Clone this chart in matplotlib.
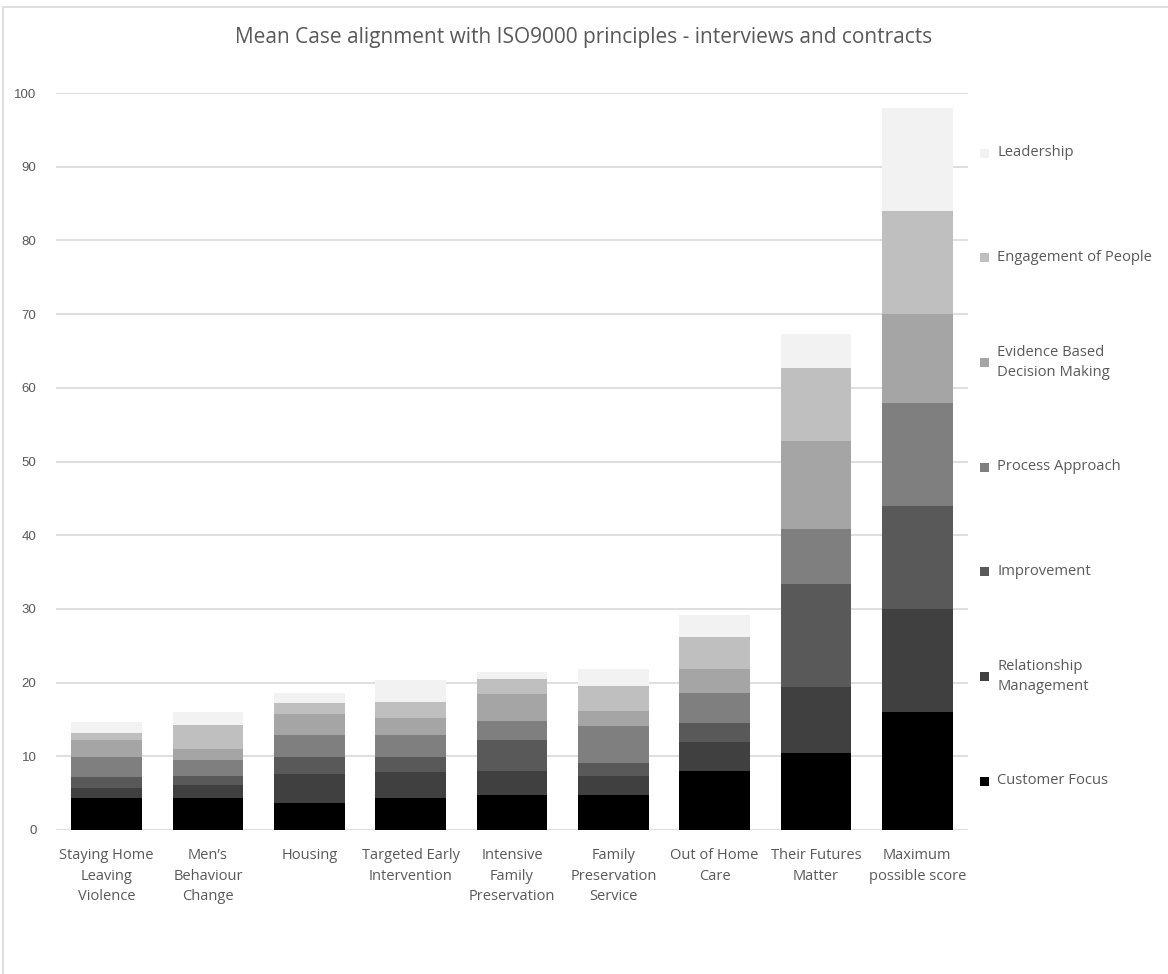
import numpy as np
import matplotlib
matplotlib.use('Agg')
import matplotlib.pyplot as plt
from matplotlib.patches import Rectangle

# mean scores per service, stacked by ISO9000 principle
categories = ['Staying Home\nLeaving\nViolence', 'Men\u2019s\nBehaviour\nChange', 'Housing',
              'Targeted Early\nIntervention', 'Intensive\nFamily\nPreservation',
              'Family\nPreservation\nService', 'Out of Home\nCare',
              'Their Futures\nMatter', 'Maximum\npossible score']

customer_focus = [4.4, 4.4, 3.7, 4.4, 4.8, 4.8, 8.05, 10.4, 16]
relationship   = [1.35, 1.75, 3.9, 3.45, 3.25, 2.55, 3.95, 9.0, 14]
improvement    = [1.4, 1.2, 2.25, 2.05, 4.15, 1.8, 2.5, 14.0, 14]
process        = [2.7, 2.1, 3.05, 3.05, 2.6, 4.9, 4.1, 7.5, 14]
evidence       = [2.3, 1.6, 2.8, 2.25, 3.6, 2.05, 3.3, 11.9, 12]
engagement     = [0.95, 3.25, 1.55, 2.1, 2.05, 3.4, 4.3, 9.9, 14]
leadership     = [1.6, 1.65, 1.35, 3.0, 0.95, 2.3, 3.0, 4.6, 14]

series = [
    ('Customer Focus', customer_focus, '#000000'),
    ('Relationship\nManagement', relationship, '#404040'),
    ('Improvement', improvement, '#595959'),
    ('Process Approach', process, '#7f7f7f'),
    ('Evidence Based\nDecision Making', evidence, '#a5a5a5'),
    ('Engagement of People', engagement, '#bfbfbf'),
    ('Leadership', leadership, '#f2f2f2'),
]

text_grey = '#595959'
plt.rcParams['font.family'] = ['Open Sans', 'DejaVu Sans']

fig = plt.figure(figsize=(11.68, 9.74), dpi=100)
ax = fig.add_axes([56 / 1168, 1 - 830 / 974, 912 / 1168, 737 / 974])

# outer chart frame
fig.patches.append(Rectangle((3 / 1168, -0.1), 1.2, 1 - 7 / 974 + 0.1,
                             transform=fig.transFigure, fill=False,
                             edgecolor='#d9d9d9', lw=1.2))

x = np.arange(len(categories))
bottom = np.zeros(len(categories))
for name, vals, col in series:
    ax.bar(x, vals, width=0.7, bottom=bottom, color=col, edgecolor='none', zorder=3)
    bottom += np.array(vals)

ax.set_xlim(-0.5, len(categories) - 0.5)
ax.set_ylim(0, 100)
ax.set_yticks(np.arange(0, 101, 10))
ax.grid(axis='y', color='#d9d9d9', lw=1.2, zorder=0)
for s in ax.spines.values():
    s.set_visible(False)
ax.tick_params(length=0)
ax.tick_params(axis='y', pad=14, labelsize=9.5, labelcolor=text_grey)
for lab in ax.get_yticklabels():
    lab.set_family(['Liberation Sans', 'DejaVu Sans'])
ax.set_xticks(x)
ax.set_xticklabels(categories, fontsize=10.5, color=text_grey, linespacing=1.5)
ax.tick_params(axis='x', pad=13)

fig.text(0.5, 1 - 38 / 974, 'Mean Case alignment with ISO9000 principles - interviews and contracts',
         ha='center', va='center', fontsize=15, color=text_grey)

# legend, evenly spaced down the right side
ys = np.linspace(153, 781, len(series))[::-1]
for (name, vals, col), yp in zip(series, ys):
    yf = 1 - yp / 974
    fig.patches.append(Rectangle((980 / 1168, yf - 4.5 / 974), 9 / 1168, 9 / 974,
                                 transform=fig.transFigure, facecolor=col,
                                 edgecolor='none'))
    fig.text(997 / 1168, yf, name, ha='left', va='center', fontsize=10.6,
             color=text_grey, linespacing=1.5)

fig.savefig('out.png', dpi=100)
